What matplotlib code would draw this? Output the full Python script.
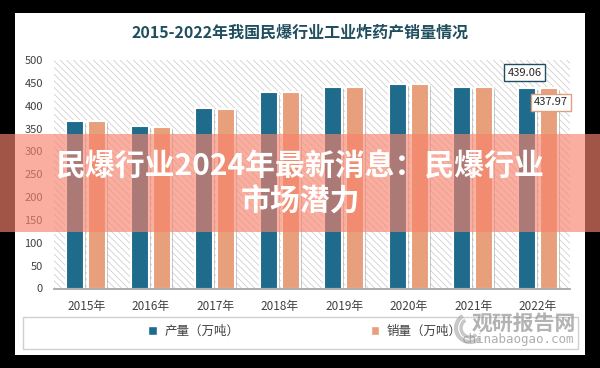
import matplotlib
matplotlib.use("Agg")
import matplotlib.pyplot as plt
import matplotlib.patheffects as pe
from matplotlib.patches import Rectangle, Patch, Arc
import numpy as np

plt.rcParams['font.family'] = ['Noto Sans CJK SC', 'DejaVu Sans']
plt.rcParams['hatch.linewidth'] = 0.5

# ---- data ----
years = ['2015年', '2016年', '2017年', '2018年', '2019年', '2020年', '2021年', '2022年']
production = [366.5, 355.5, 395.0, 429.0, 441.4, 448.5, 441.4, 439.06]
sales = [366.0, 353.5, 393.0, 429.5, 441.4, 448.5, 441.4, 437.97]
series_names = ['产量（万吨）', '销量（万吨）']
yticks = [0, 50, 100, 150, 200, 250, 300, 350, 400, 450, 500]
title = '2015-2022年我国民爆行业工业炸药产销量情况'
banner_line1 = '民爆行业2024年最新消息：民爆行业'
banner_line2 = '市场潜力'

W, H = 600, 368
c_prod = '#1f6b8c'
c_sale = '#e89f7c'

fig = plt.figure(figsize=(6, 3.68), dpi=100, facecolor='black')

def fx(px):
    return px / W

def fy(py):
    return 1 - py / H

# white panel
fig.add_artist(Rectangle((fx(15), fy(355)), fx(570), 342 / H, transform=fig.transFigure,
                         facecolor='white', edgecolor='none', zorder=0))

# title
fig.text(0.5, fy(33), title, ha='center', va='center', fontsize=11.5,
         fontweight='bold', color='#1f4e5f')

# axes
ax = fig.add_axes([fx(54), fy(288.5), fx(516), 228.5 / H])
ax.set_facecolor('none')
ax.add_patch(Rectangle((0, 0), 1, 1, transform=ax.transAxes, facecolor='white',
                       edgecolor='#c8c8c8', hatch='\\\\\\\\\\', linewidth=0, zorder=0))

x = np.arange(len(years))
bw = 0.275
off = 0.172
shadow = [pe.SimplePatchShadow(offset=(1.5, -1.5), shadow_rgbFace='#8a8a8a', alpha=0.45), pe.Normal()]
b1 = ax.bar(x - off, production, bw, color=c_prod, edgecolor='white', linewidth=1.5, zorder=3,
            label=series_names[0])
b2 = ax.bar(x + off, sales, bw, color=c_sale, edgecolor='white', linewidth=1.5, zorder=3,
            label=series_names[1])
for b in list(b1) + list(b2):
    b.set_path_effects(shadow)

ax.set_xlim(-0.5, len(years) - 0.5)
ax.set_ylim(0, 500)
ax.set_yticks(yticks)
ax.set_xticks(x)
ax.set_xticklabels(years)
ax.tick_params(axis='y', length=0, labelsize=8, labelcolor='#404040', pad=8)
ax.tick_params(axis='x', length=0, labelsize=8.5, labelcolor='#404040', pad=8)
for s in ['top', 'right', 'left']:
    ax.spines[s].set_visible(False)
ax.spines['bottom'].set_color('#a6a6a6')
ax.spines['bottom'].set_linewidth(1.3)
ax.spines['bottom'].set_zorder(4)

# data labels for last year
last = len(years) - 1
ax.annotate(f'{production[last]:.2f}', xy=(x[last] - off, production[last]), xytext=(-1.5, 11),
            textcoords='offset points', ha='center', va='center', fontsize=8, color='#262626',
            bbox=dict(boxstyle='square,pad=0.3', facecolor='white', edgecolor='#1f4e5f', linewidth=1),
            zorder=6)
ax.annotate(f'{sales[last]:.2f}', xy=(x[last] + off, sales[last]), xytext=(1.5, -10),
            textcoords='offset points', ha='center', va='center', fontsize=8, color='#262626',
            bbox=dict(boxstyle='square,pad=0.3', facecolor='white', edgecolor='#e0a080', linewidth=1),
            zorder=6)

# legend box
fig.add_artist(Rectangle((fx(23), fy(349)), fx(555), 32 / H, transform=fig.transFigure,
                         facecolor='white', edgecolor='#d0d0d0', linewidth=1, zorder=1))
handles = [Patch(facecolor=c_prod, edgecolor='white'), Patch(facecolor=c_sale, edgecolor='white')]
fig.legend(handles, series_names, loc='center', bbox_to_anchor=(fx(305), fy(331)), ncol=2,
           frameon=False, fontsize=9, handlelength=0.7, handleheight=0.7, handletextpad=0.6,
           columnspacing=10.5, labelcolor='#404040')

# watermark
fig.text(fx(524), fy(323), '观研报告网', ha='center', va='center', fontsize=15, fontweight='bold',
         color='#9a9a9a', alpha=0.75, zorder=8)
fig.text(fx(518), fy(340), 'chinabaogao.com', ha='center', va='center', fontsize=9,
         color='#9a9a9a', alpha=0.8, family=['DejaVu Sans Mono'], zorder=8)
for r, lw in [(14, 3), (9, 2.5)]:
    fig.add_artist(Arc((fx(470), fy(328)), 2 * r / W, 2 * r / H, theta1=110, theta2=300,
                       transform=fig.transFigure, color='#b0b0b0', linewidth=lw, alpha=0.7, zorder=8))

# banner overlay
fig.add_artist(Rectangle((0, fy(232)), 1, 98 / H, transform=fig.transFigure,
                         facecolor=(247 / 255, 131 / 255, 108 / 255), alpha=0.65,
                         edgecolor='none', zorder=10))
fig.text(0.5, fy(166), banner_line1, ha='center', va='center', fontsize=21.5, fontweight='bold',
         color='white', zorder=11)
fig.text(0.5, fy(202), banner_line2, ha='center', va='center', fontsize=21.5, fontweight='bold',
         color='white', zorder=11)

fig.savefig('out.png', dpi=100, facecolor='black')
